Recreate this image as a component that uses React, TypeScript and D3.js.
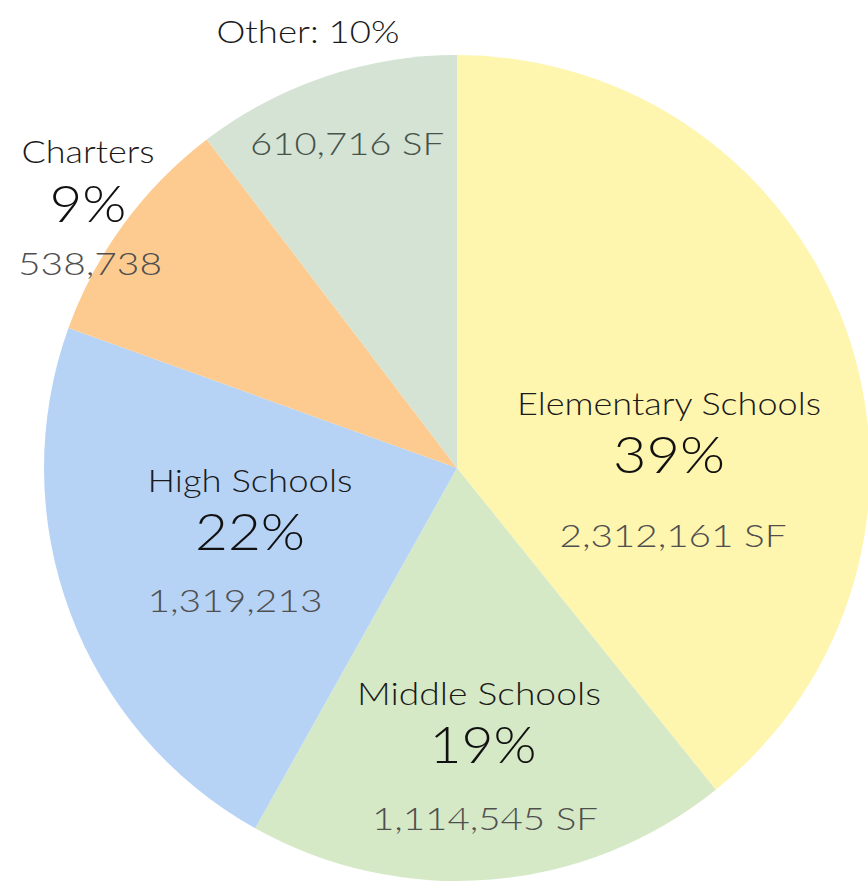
import React from "react";
import * as d3 from "d3";

const categories = ["Elementary Schools", "Middle Schools", "High Schools", "Charters", "Other"];
const values = [2312161, 1114545, 1319213, 538738, 610716];
const percentLabels = ["39%", "19%", "22%", "9%", "10%"];
const valueLabels = ["2,312,161 SF", "1,114,545 SF", "1,319,213", "538,738", "610,716 SF"];
const colors = ["#FEF5AF", "#D6E9C6", "#B6D3F6", "#FDCB8F", "#D4E3D4"];

const W = 868;
const H = 886;
const CX = 457;
const CY = 468;
const R = 413;
const FONT = "Lato, 'Open Sans', sans-serif";

// label layout (positions and widths only)
const nameLayout = [
  { x: 669, y: 415, w: 304 },
  { x: 479, y: 705, w: 244 },
  { x: 250, y: 492, w: 205 },
  { x: 88, y: 163, w: 133 },
  { x: 308, y: 43, w: 183 },
];
const pctLayout = [
  { x: 669, y: 473, w: 112 },
  { x: 483, y: 763, w: 107 },
  { x: 250, y: 550, w: 110 },
  { x: 88, y: 222, w: 77 },
];
const valLayout = [
  { x: 673, y: 547, w: 227 },
  { x: 485, y: 830, w: 226 },
  { x: 235, y: 612, w: 175 },
  { x: 90, y: 275, w: 144 },
  { x: 347, y: 155, w: 194 },
];

export default function App() {
  const pie = d3.pie<number>().sort(null).startAngle(0).endAngle(2 * Math.PI);
  const arcs = pie(values);
  const arc = d3.arc<d3.PieArcDatum<number>>().innerRadius(0).outerRadius(R);

  return (
    <svg width={W} height={H} style={{ position: "absolute", left: 0, top: 0, background: "#fff" }}>
      <g transform={`translate(${CX},${CY})`}>
        {arcs.map((a, i) => (
          <path key={i} d={arc(a) || ""} fill={colors[i]} />
        ))}
      </g>
      <g fontFamily={FONT} textAnchor="middle" fontWeight={300}>
        {categories.map((c, i) => (
          <text key={"n" + i} x={nameLayout[i].x} y={nameLayout[i].y} fontSize={31} fill="#1a1a1a"
            textLength={nameLayout[i].w} lengthAdjust="spacingAndGlyphs">
            {i === 4 ? `${c}: ${percentLabels[i]}` : c}
          </text>
        ))}
        {pctLayout.map((p, i) => (
          <text key={"p" + i} x={p.x} y={p.y} fontSize={52} fill="#111"
            textLength={p.w} lengthAdjust="spacingAndGlyphs">
            {percentLabels[i]}
          </text>
        ))}
        {valueLabels.map((v, i) => (
          <text key={"v" + i} x={valLayout[i].x} y={valLayout[i].y} fontSize={31} fill={i === 4 ? "#46524a" : "#4f4f4f"}
            textLength={valLayout[i].w} lengthAdjust="spacingAndGlyphs">
            {v}
          </text>
        ))}
      </g>
    </svg>
  );
}
